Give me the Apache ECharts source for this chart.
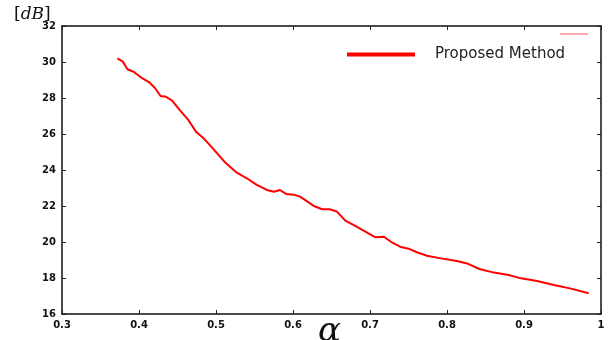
<!DOCTYPE html>
<html>
<head>
<meta charset="utf-8">
<script src="https://cdn.jsdelivr.net/npm/echarts@6/dist/echarts.min.js"></script>
<style>html,body{margin:0;padding:0;background:#fff}#c{width:611px;height:340px}</style>
</head>
<body>
<div id="c"></div>
<script>
const seriesName = 'Proposed Method';
const alphaValues = [0.372,0.379,0.385,0.393,0.404,0.414,0.421,0.428,0.435,0.443,0.453,0.464,0.474,0.484,0.497,0.512,0.527,0.540,0.553,0.566,0.575,0.583,0.591,0.601,0.609,0.616,0.627,0.638,0.648,0.657,0.668,0.679,0.694,0.707,0.718,0.729,0.739,0.750,0.761,0.774,0.792,0.813,0.826,0.842,0.861,0.880,0.896,0.917,0.939,0.961,0.984];
const dbValues = [30.2,30.02,29.6,29.46,29.1,28.85,28.54,28.11,28.07,27.85,27.33,26.78,26.13,25.76,25.15,24.41,23.85,23.54,23.17,22.89,22.79,22.89,22.67,22.63,22.52,22.33,22.0,21.82,21.82,21.69,21.19,20.94,20.57,20.26,20.29,19.96,19.74,19.63,19.43,19.24,19.09,18.94,18.81,18.5,18.3,18.17,17.98,17.83,17.61,17.41,17.15];
const xTicks = {min: 0.3, max: 1, interval: 0.1};
const yTicks = {min: 16, max: 32, interval: 2};

const chart = echarts.init(document.getElementById('c'), null, {renderer: 'canvas'});
const lblFont = {color: '#111', fontSize: 10, fontFamily: 'DejaVu Sans', fontWeight: 'bold'};
const tickInside = {show: true, inside: true, length: 4, lineStyle: {color: '#222', width: 1}};
const axLine = {show: true, lineStyle: {color: '#111', width: 1.5}};
const data = alphaValues.map((a, i) => [a, dbValues[i]]);

chart.setOption({
  animation: false,
  backgroundColor: '#fff',
  grid: {left: 62, right: 10, top: 26, bottom: 26, containLabel: false},
  title: [
    {text: '{b|[}{i|dB}{b|]}', left: 14, top: 6, padding: 0,
     textStyle: {fontWeight: 'normal', rich: {
       b: {fontFamily: 'DejaVu Serif', fontSize: 17, fontWeight: 'normal', color: '#111'},
       i: {fontFamily: 'DejaVu Serif', fontStyle: 'italic', fontSize: 17, fontWeight: 'normal', color: '#111'}}}},
    {text: 'α', left: 313, top: 310,
     textStyle: {fontFamily: 'DejaVu Serif', fontStyle: 'italic', fontSize: 34, fontWeight: 'normal', color: '#111'}}
  ],
  legend: {
    left: 347, top: 47, padding: 0, icon: 'rect', itemWidth: 68, itemHeight: 4, itemGap: 10,
    textStyle: {fontFamily: 'DejaVu Sans', fontSize: 15, color: '#222', padding: [0, 0, 0, 15]},
    data: [seriesName]
  },
  graphic: [
    {type: 'line', shape: {x1: 560, y1: 34, x2: 588, y2: 34}, style: {stroke: '#ff5555', lineWidth: 1}}
  ],
  xAxis: [
    {type: 'value', position: 'bottom', min: xTicks.min, max: xTicks.max, interval: xTicks.interval,
     axisLine: axLine, axisTick: tickInside, splitLine: {show: false},
     axisLabel: {...lblFont, margin: 6, formatter: v => String(Math.round(v * 10) / 10)}},
    {type: 'value', position: 'top', min: xTicks.min, max: xTicks.max, interval: xTicks.interval,
     axisLine: axLine, axisTick: tickInside, splitLine: {show: false}, axisLabel: {show: false}}
  ],
  yAxis: [
    {type: 'value', position: 'left', min: yTicks.min, max: yTicks.max, interval: yTicks.interval,
     axisLine: axLine, axisTick: tickInside, splitLine: {show: false},
     axisLabel: {...lblFont, margin: 6}},
    {type: 'value', position: 'right', min: yTicks.min, max: yTicks.max, interval: yTicks.interval,
     axisLine: axLine, axisTick: tickInside, splitLine: {show: false}, axisLabel: {show: false}}
  ],
  series: [{
    name: seriesName, type: 'line', xAxisIndex: 0, yAxisIndex: 0,
    data: data, showSymbol: false, smooth: false,
    lineStyle: {color: '#ff0000', width: 2}, itemStyle: {color: '#ff0000'}
  }]
});
</script>
</body>
</html>
